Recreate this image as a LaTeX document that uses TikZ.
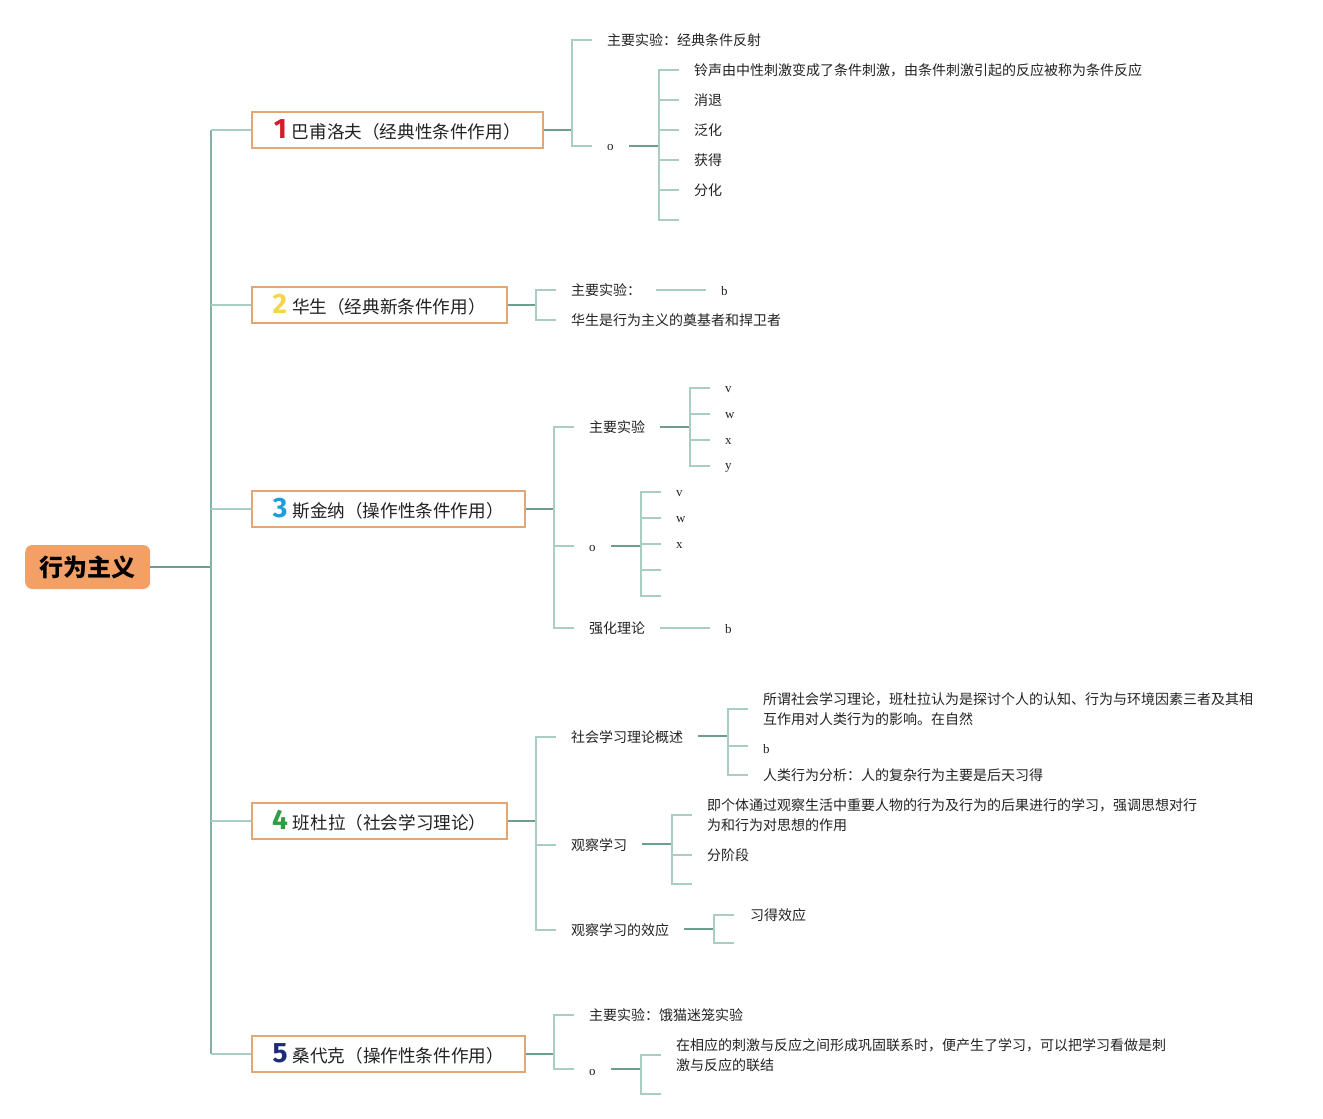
\documentclass[tikz,border=0pt]{standalone}
\usepackage{fontspec}
\setmainfont{Noto Sans CJK SC}
\newfontfamily\lat{Liberation Serif}
\newfontfamily\numf{Fira Sans}
\definecolor{dkc}{HTML}{6E9E90}
\definecolor{mdc}{HTML}{86B2A5}
\definecolor{ltc}{HTML}{A9CDC2}
\definecolor{txc}{HTML}{222222}
\definecolor{boxc}{HTML}{E5A676}
\definecolor{rootc}{HTML}{F3A066}
\definecolor{nA}{HTML}{D51A2B}
\definecolor{nB}{HTML}{F4D54A}
\definecolor{nC}{HTML}{1F9BE0}
\definecolor{nD}{HTML}{2E9E42}
\definecolor{nE}{HTML}{1D2A7A}
\newcommand{\numtag}[2]{{\numf\bfseries\fontsize{28}{28}\selectfont\color{#1}#2}\hspace{5pt}}
\begin{document}
\begin{tikzpicture}[x=1pt,y=-1pt,
  dk/.style={draw=dkc, line width=1.6pt},
  md/.style={draw=mdc, line width=1.4pt},
  lt/.style={draw=ltc, line width=1.3pt},
  txt/.style={anchor=west, inner sep=0pt, font=\fontsize{14}{20}\selectfont, text=txc, align=left},
  ltr/.style={anchor=west, inner sep=0pt, yshift=-1.5pt, font=\lat\fontsize{13}{16}\selectfont, text=txc},
  box/.style={draw=boxc, line width=1.5pt, fill=white, minimum height=36pt, inner sep=0pt, anchor=west, font=\fontsize{17.6}{20}\selectfont, text=txc},
]
\useasboundingbox (0,0) rectangle (1323,1119);
% root
\node[fill=rootc, rounded corners=7pt, minimum width=125pt, minimum height=44pt, inner sep=0pt, anchor=west, font=\bfseries\fontsize{24}{24}\selectfont, text=black] (R) at (25,567) {行为主义};
\coordinate (T) at (211,567);
% boxes
\node[box, minimum width=291pt] (B1) at (251,130) {\numtag{nA}{1}巴甫洛夫（经典性条件作用）};
\node[box, minimum width=255pt] (B2) at (251,305) {\numtag{nB}{2}华生（经典新条件作用）};
\node[box, minimum width=273pt] (B3) at (251,509) {\numtag{nC}{3}斯金纳（操作性条件作用）};
\node[box, minimum width=255pt] (B4) at (251,821) {\numtag{nD}{4}班杜拉（社会学习理论）};
\node[box, minimum width=273pt] (B5) at (251,1054) {\numtag{nE}{5}桑代克（操作性条件作用）};
\draw[dk] (R.east) -- (T);
\draw[md] (T |- B1.west) -- (T |- B5.west);
\foreach \b in {B1,B2,B3,B4,B5} \draw[lt] (T |- \b.west) -- (\b.west);

% ---------- branch 1
\coordinate (k1) at (572,130);
\draw[dk] (B1.east) -- (k1);
\node[txt] (c11) at (607,40) {主要实验：经典条件反射};
\node[ltr] (c12) at (607,146) {o};
\coordinate (p12) at (592,146);
\coordinate (k12) at (659,146);
\node[txt] (d11) at (694,70) {铃声由中性刺激变成了条件刺激，由条件刺激引起的反应被称为条件反应};
\node[txt] (d12) at (694,100) {消退};
\node[txt] (d13) at (694,130) {泛化};
\node[txt] (d14) at (694,160) {获得};
\node[txt] (d15) at (694,190) {分化};
\coordinate (e16) at (679,220);
\draw[lt] (k1) |- ([xshift=-15pt]c11.west);
\draw[lt] (k1) |- (p12);
\draw[dk] (k12) -- ++(-30pt,0);
\foreach \d in {d11,d12,d13,d14,d15} \draw[lt] (k12) |- ([xshift=-15pt]\d.west);
\draw[lt] (k12) |- (e16);

% ---------- branch 2
\coordinate (k2) at (536,305);
\draw[dk] (B2.east) -- (k2);
\node[txt] (c21) at (571,290) {主要实验：};
\node[txt] (c22) at (571,320) {华生是行为主义的奠基者和捍卫者};
\node[ltr] (d21) at (721,290) {b};
\coordinate (f21) at (706,290);
\draw[lt] (k2) |- ([xshift=-15pt]c21.west);
\draw[lt] (k2) |- ([xshift=-15pt]c22.west);
\draw[lt] (f21) -- ++(-50pt,0);

% ---------- branch 3
\coordinate (k3) at (554,509);
\draw[dk] (B3.east) -- (k3);
\node[txt] (c31) at (589,427) {主要实验};
\node[ltr] (c32) at (589,547) {o};
\coordinate (p32) at (574,546);
\node[txt] (c33) at (589,628) {强化理论};
\draw[lt] (k3) |- ([xshift=-15pt]c31.west);
\draw[lt] (k3) |- (p32);
\draw[lt] (k3) |- ([xshift=-15pt]c33.west);
\coordinate (k31) at (690,427);
\draw[dk] (k31) -- ++(-30pt,0);
\node[ltr] (d31) at (725,388) {v};
\node[ltr] (d32) at (725,414) {w};
\node[ltr] (d33) at (725,440) {x};
\node[ltr] (d34) at (725,466) {y};
\foreach \d/\yy in {d31/388,d32/414,d33/440,d34/466} \coordinate (q\d) at (710,\yy);
\foreach \d in {qd31,qd32,qd33,qd34} \draw[lt] (k31) |- (\d);
\coordinate (k32) at (641,546);
\draw[dk] (k32) -- ++(-30pt,0);
\node[ltr] (d35) at (676,492) {v};
\node[ltr] (d36) at (676,518) {w};
\node[ltr] (d37) at (676,544) {x};
\foreach \d/\yy in {d35/492,d36/518,d37/544} \coordinate (q\d) at (661,\yy);
\coordinate (e38) at (661,570);
\coordinate (e39) at (661,596);
\foreach \d in {qd35,qd36,qd37,e38,e39} \draw[lt] (k32) |- (\d);
\node[ltr] (d3b) at (725,628) {b};
\coordinate (f3b) at (710,628);
\draw[lt] (f3b) -- ++(-50pt,0);

% ---------- branch 4
\coordinate (k4) at (536,821);
\draw[dk] (B4.east) -- (k4);
\node[txt] (c41) at (571,737) {社会学习理论概述};
\node[txt] (c42) at (571,845) {观察学习};
\node[txt] (c43) at (571,930) {观察学习的效应};
\draw[lt] (k4) |- ([xshift=-15pt]c41.west);
\draw[lt] (k4) |- ([xshift=-15pt]c42.west);
\draw[lt] (k4) |- ([xshift=-15pt]c43.west);
\coordinate (k41) at (728,736);
\draw[dk] (k41) -- ++(-30pt,0);
\node[txt] (d41) at (763,709) {所谓社会学习理论，班杜拉认为是探讨个人的认知、行为与环境因素三者及其相\\互作用对人类行为的影响。在自然};
\node[ltr] (d42) at (763,748) {b};
\coordinate (qd42) at (748,746);
\node[txt] (d43) at (763,775) {人类行为分析：人的复杂行为主要是后天习得};
\draw[lt] (k41) |- ([xshift=-15pt]d41.west);
\draw[lt] (k41) |- (qd42);
\draw[lt] (k41) |- ([xshift=-15pt]d43.west);
\coordinate (k42) at (672,844);
\draw[dk] (k42) -- ++(-30pt,0);
\node[txt] (d44) at (707,815) {即个体通过观察生活中重要人物的行为及行为的后果进行的学习，强调思想对行\\为和行为对思想的作用};
\node[txt] (d45) at (707,855) {分阶段};
\coordinate (e46) at (692,884);
\draw[lt] (k42) |- ([xshift=-15pt]d44.west);
\draw[lt] (k42) |- ([xshift=-15pt]d45.west);
\draw[lt] (k42) |- (e46);
\coordinate (k43) at (714,929);
\draw[dk] (k43) -- ++(-30pt,0);
\node[txt] (d47) at (750,915) {习得效应};
\coordinate (e48) at (734,943);
\draw[lt] (k43) |- ([xshift=-16pt]d47.west);
\draw[lt] (k43) |- (e48);

% ---------- branch 5
\coordinate (k5) at (554,1054);
\draw[dk] (B5.east) -- (k5);
\node[txt] (c51) at (589,1015) {主要实验：饿猫迷笼实验};
\node[ltr] (c52) at (589,1071) {o};
\coordinate (p52) at (574,1069);
\draw[lt] (k5) |- ([xshift=-15pt]c51.west);
\draw[lt] (k5) |- (p52);
\coordinate (k52) at (641,1069);
\draw[dk] (k52) -- ++(-30pt,0);
\node[txt] (d51) at (676,1055) {在相应的刺激与反应之间形成巩固联系时，便产生了学习，可以把学习看做是刺\\激与反应的联结};
\coordinate (e52) at (661,1094);
\draw[lt] (k52) |- ([xshift=-15pt]d51.west);
\draw[lt] (k52) |- (e52);
\end{tikzpicture}
\end{document}
